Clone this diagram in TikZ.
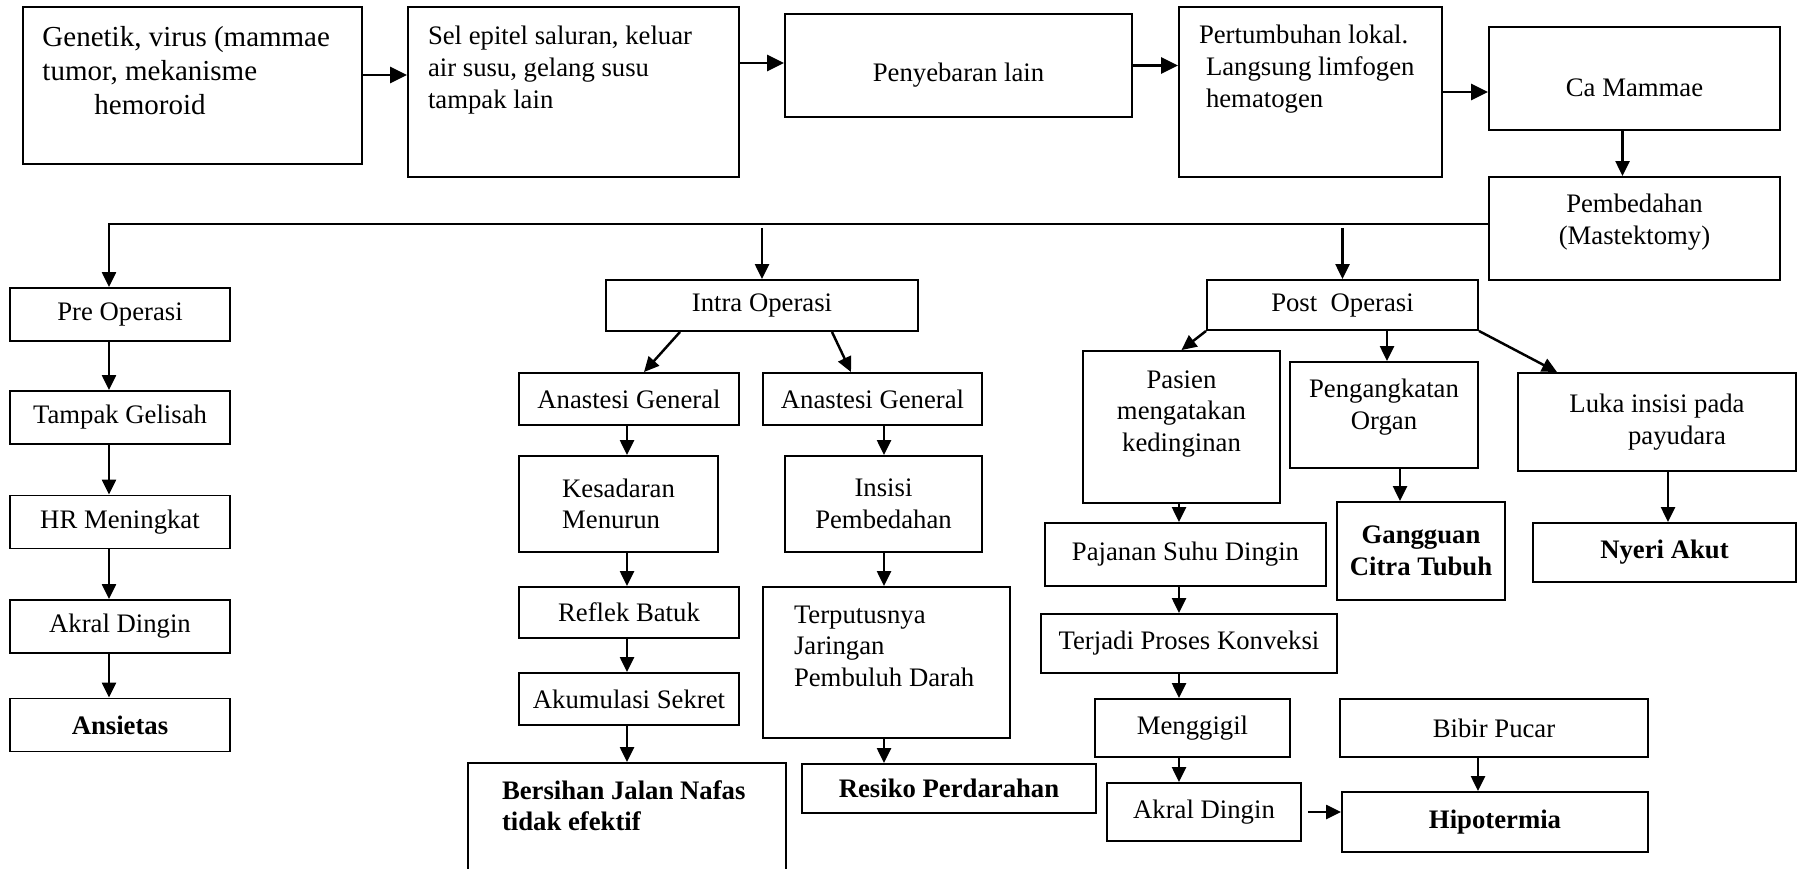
\documentclass[tikz,border=0pt]{standalone}
\usepackage{fontspec}
\setmainfont{Liberation Serif}
\usetikzlibrary{arrows.meta}

\tikzset{every picture/.style={line width=0.55pt}}
\tikzset{
  box/.style={draw,inner sep=0pt,align=center,font=\fontsize{7.6}{9}\selectfont},
  dx/.style={box,font=\fontsize{7.6}{9}\selectfont\bfseries},
  sz/.style 2 args={minimum width=#1 cm,minimum height=#2 cm},
  toptext/.style 2 args={text height=#1 cm,text depth=#2 cm},
  arr/.style={line width=0.7pt,-{Triangle[length=0.15cm,width=0.14cm]}},
  bigarr/.style={line width=0.8pt,-{Triangle[length=0.17cm,width=0.16cm]}}
}

\begin{document}
\begin{tikzpicture}
\useasboundingbox (0,0) rectangle (17.98,-8.69);
\clip (0,0) rectangle (17.98,-8.69);

% baris atas
\node[box,sz={3.39}{1.57},toptext={0.395}{1.175},text width=3.0cm,align=flush left,font=\fontsize{8.25}{9.7}\selectfont] (gen) at (1.925,-0.855) {Genetik, virus (mammae\\tumor, mekanisme\\\hspace*{0.52cm}hemoroid};
\node[box,sz={3.31}{1.70},toptext={0.38}{1.32},text width=2.91cm,align=flush left] (sel) at (5.735,-0.92) {Sel epitel saluran, keluar\\air susu, gelang susu\\tampak lain};
\node[box,sz={3.47}{1.03},toptext={0.68}{0.35}] (pen) at (9.585,-0.655) {Penyebaran lain};
\node[box,sz={2.63}{1.70},toptext={0.37}{1.33},text width=2.23cm,align=flush left] (per) at (13.105,-0.92) {Pertumbuhan lokal.\\\hspace*{0.07cm}Langsung limfogen\\\hspace*{0.07cm}hematogen};
\node[box,sz={2.91}{1.03},toptext={0.70}{0.33}] (ca) at (16.345,-0.785) {Ca Mammae};
\node[box,sz={2.91}{1.03},toptext={0.36}{0.67},text width=2.9cm,align=flush center] (pem) at (16.345,-2.285) {Pembedahan\\(Mastektomy)};

% pre operasi
\node[box,sz={2.2}{0.53}] (pre) at (1.2,-3.145) {Pre Operasi};
\node[box,sz={2.2}{0.53}] (gel) at (1.2,-4.175) {Tampak Gelisah};
\node[box,sz={2.2}{0.53}] (hr) at (1.2,-5.22) {HR Meningkat};
\node[box,sz={2.2}{0.53}] (akr) at (1.2,-6.265) {Akral Dingin};
\node[dx,sz={2.2}{0.53}] (ans) at (1.2,-7.25) {Ansietas};

% intra operasi
\node[box,sz={3.12}{0.51}] (intra) at (7.62,-3.055) {Intra Operasi};
\node[box,sz={2.2}{0.52}] (an1) at (6.29,-3.99) {Anastesi General};
\node[box,sz={2.19}{0.52}] (an2) at (8.725,-3.99) {Anastesi General};
\node[box,sz={1.99}{0.96},align=left] (kes) at (6.185,-5.04) {Kesadaran\\Menurun};
\node[box,sz={2.2}{0.51}] (ref) at (6.29,-6.125) {Reflek Batuk};
\node[box,sz={2.2}{0.52}] (aku) at (6.29,-6.99) {Akumulasi Sekret};
\node[dx,sz={3.18}{1.30},toptext={0.36}{0.94},text width=2.5cm,align=flush left] (ber) at (6.27,-8.28) {Bersihan Jalan Nafas\\tidak efektif};
\node[box,sz={1.97}{0.96}] (ins) at (8.835,-5.04) {Insisi\\Pembedahan};
\node[box,sz={2.47}{1.51},toptext={0.36}{1.15},text width=1.85cm,align=flush left] (ter) at (8.865,-6.625) {Terputusnya\\Jaringan\\Pembuluh Darah};
\node[dx,sz={2.94}{0.49}] (res) at (9.49,-7.885) {Resiko Perdarahan};

% post operasi
\node[box,sz={2.71}{0.50}] (post) at (13.425,-3.05) {Post~ Operasi};
\node[box,sz={1.97}{1.52},toptext={0.37}{1.15},text width=1.9cm,align=flush center] (pas) at (11.815,-4.27) {Pasien\hspace*{0.4cm}\\mengatakan\\kedinginan};
\node[box,sz={1.88}{1.06},toptext={0.36}{0.70},text width=1.8cm,align=flush center] (peng) at (13.84,-4.15) {Pengangkatan\\Organ};
\node[box,sz={2.78}{0.98}] (luka) at (16.57,-4.22) {Luka insisi pada\\\hspace*{0.4cm}payudara};
\node[box,sz={2.81}{0.63}] (pjn) at (11.855,-5.545) {Pajanan Suhu Dingin};
\node[box,sz={2.96}{0.59}] (kon) at (11.89,-6.435) {Terjadi Proses Konveksi};
\node[box,sz={1.95}{0.58}] (mgg) at (11.925,-7.28) {Menggigil};
\node[box,sz={1.94}{0.58}] (akr2) at (12.04,-8.12) {Akral Dingin};
\node[box,sz={3.08}{0.58}] (bib) at (14.94,-7.28) {Bibir Pucar};
\node[dx,sz={3.06}{0.60}] (hip) at (14.95,-8.22) {Hipotermia};
\node[dx,sz={1.68}{0.98}] (gan) at (14.21,-5.51) {Gangguan\\Citra Tubuh};
\node[dx,sz={2.63}{0.59}] (nye) at (16.645,-5.525) {Nyeri Akut};

\coordinate (hl) at (1.09,-2.24);
\coordinate (hs) at (0,-2.28);
\coordinate (c1) at (6.27,0);
\coordinate (c2) at (8.84,0);
\coordinate (c3) at (11.79,0);
\coordinate (c4) at (13.87,0);
\coordinate (c5) at (14.00,0);
\coordinate (c6) at (16.68,0);
\coordinate (c7) at (14.78,0);

\draw[bigarr] ([yshift=0.105cm]gen.east) -- ([yshift=0.105cm]gen.east -| sel.west);
\draw[bigarr] ([yshift=0.29cm]sel.east) -- ([yshift=0.29cm]sel.east -| pen.west);
\draw[bigarr] (pen.east) -- (pen.east -| per.west);
\draw[bigarr] (per.east) -- (per.east -| ca.west);
\draw[arr] ([xshift=-0.12cm]ca.south) -- ([xshift=-0.12cm]pem.north);

\draw[arr] (pem.west |- hl) -- (hl) -- (pre.north -| hl);
\draw[arr] (intra.north |- hs) -- (intra.north);
\draw[arr] (post.north |- hs) -- (post.north);

\draw[arr] (pre.south -| hl) -- (gel.north -| hl);
\draw[arr] (gel.south -| hl) -- (hr.north -| hl);
\draw[arr] (hr.south -| hl) -- (akr.north -| hl);
\draw[arr] (akr.south -| hl) -- (ans.north -| hl);

\draw[arr] ([xshift=-0.82cm]intra.south) -- ([xshift=0.15cm]an1.north);
\draw[arr] ([xshift=0.70cm]intra.south) -- ([xshift=-0.215cm]an2.north);
\draw[arr] (an1.south -| c1) -- (kes.north -| c1);
\draw[arr] (kes.south -| c1) -- (ref.north -| c1);
\draw[arr] (ref.south -| c1) -- (aku.north -| c1);
\draw[arr] (aku.south -| c1) -- (ber.north -| c1);
\draw[arr] (an2.south -| c2) -- (ins.north -| c2);
\draw[arr] (ins.south -| c2) -- (ter.north -| c2);
\draw[arr] (ter.south -| c2) -- (res.north -| c2);

\draw[arr] (post.south west) -- (pas.north);
\draw[arr] (post.south -| c4) -- (peng.north -| c4);
\draw[arr] (post.south east) -- ([xshift=-1cm]luka.north);
\draw[arr] (pas.south -| c3) -- (pjn.north -| c3);
\draw[arr] (pjn.south -| c3) -- (kon.north -| c3);
\draw[arr] (kon.south -| c3) -- (mgg.north -| c3);
\draw[arr] (mgg.south -| c3) -- (akr2.north -| c3);
\draw[arr] ([xshift=0.06cm]akr2.east) -- (akr2.east -| hip.west);
\draw[arr] (bib.south -| c7) -- (hip.north -| c7);
\draw[arr] (peng.south -| c5) -- (gan.north -| c5);
\draw[arr] (luka.south -| c6) -- (nye.north -| c6);
\end{tikzpicture}
\end{document}
